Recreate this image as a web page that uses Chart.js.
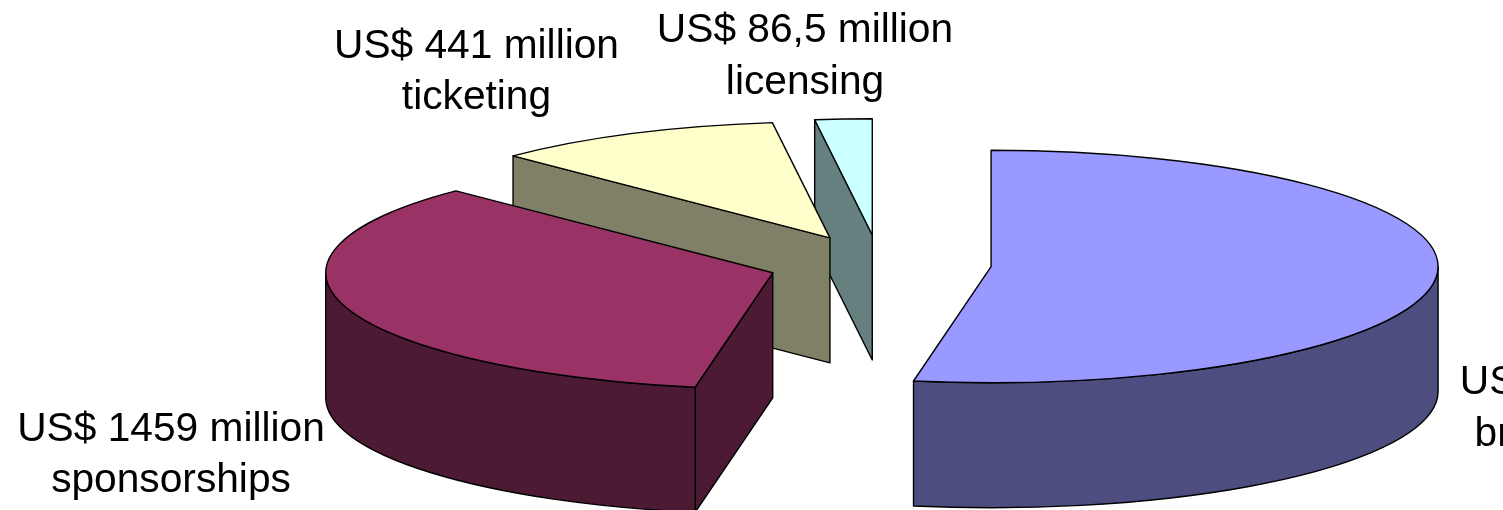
<!DOCTYPE html>
<html>
<head>
<meta charset="utf-8">
<title>Revenue by source</title>
<script src="https://cdn.jsdelivr.net/npm/chart.js@4"></script>
<style>
  html, body { margin: 0; padding: 0; background: #fff; overflow: hidden; }
  canvas { display: block; }
</style>
</head>
<body>
<canvas id="pie" width="1503" height="510"></canvas>
<script>
// Revenue in US$ million, clockwise from twelve o'clock
const sources = ['broadcasting', 'sponsorships', 'ticketing', 'licensing'];
const revenue = [2220, 1459, 441, 86.5];
const amountLabels = ['US$ 2,2 billion', 'US$ 1459 million', 'US$ 441 million', 'US$ 86,5 million'];

const topColors  = ['#9999FF', '#993366', '#FFFFCC', '#CCFFFF'];
const wallColors = ['#4D4D80', '#4D1A33', '#808066', '#668080'];

// Centre of each two-line label and the baselines of its lines
const labelX = [1591, 171, 476.5, 805];
const labelLine1 = [393.5, 440.5, 58, 42];
const labelLine2 = [445.5, 492, 109, 93.5];

// Projection of the tilted pie
const view = { cx: 879.5, cy: 264, radius: 447, squash: 0.26, depth: 125, explode: 112 };

const projectedPie = {
  id: 'projectedPie',
  beforeDatasetDraw(chart, args) {
    const ctx = chart.ctx;
    const arcs = args.meta.data;
    const { cx, cy, squash, depth, explode } = view;

    // Builds a path in squashed pie space; the stroke stays uniform afterwards
    const flatPath = (ox, oy, build) => {
      ctx.save();
      ctx.translate(ox, oy);
      ctx.scale(1, squash);
      build();
      ctx.restore();
    };
    const paint = (fill) => {
      ctx.fillStyle = fill;
      ctx.fill();
      ctx.stroke();
    };

    ctx.save();
    ctx.lineWidth = 1.4;
    ctx.lineJoin = 'round';
    ctx.strokeStyle = '#000';

    // Farthest slice first so nearer ones overlap it
    for (let i = arcs.length - 1; i >= 0; i--) {
      const arc = arcs[i];
      const { startAngle: a0, endAngle: a1, outerRadius: r } = arc.getProps(['startAngle', 'endAngle', 'outerRadius']);
      const mid = (a0 + a1) / 2;
      const ox = cx + Math.cos(mid) * explode;
      const oy = cy + Math.sin(mid) * explode * squash;
      const ex = (a) => ox + Math.cos(a) * r;
      const ey = (a) => oy + Math.sin(a) * r * squash;

      // Cut face along a radius
      const cutFace = (a) => {
        ctx.beginPath();
        ctx.moveTo(ox, oy);
        ctx.lineTo(ex(a), ey(a));
        ctx.lineTo(ex(a), ey(a) + depth);
        ctx.lineTo(ox, oy + depth);
        ctx.closePath();
        paint(wallColors[i]);
      };
      // A cut face shows only when its outward normal points at the viewer
      if (Math.cos(a0) < -1e-6) cutFace(a0);
      if (Math.cos(a1) > 1e-6) cutFace(a1);

      // Rim, only where it faces the viewer
      const from = Math.max(a0, 0);
      const to = Math.min(a1, Math.PI);
      if (to > from) {
        ctx.beginPath();
        flatPath(ox, oy, () => ctx.arc(0, 0, r, from, to));
        flatPath(ox, oy + depth, () => ctx.arc(0, 0, r, to, from, true));
        ctx.closePath();
        paint(wallColors[i]);
      }

      // Top face: the library's own arc element under the tilt
      ctx.save();
      ctx.translate(ox, oy);
      ctx.scale(1, squash);
      ctx.translate(-arc.x, -arc.y);
      arc.draw(ctx);
      ctx.restore();

      ctx.beginPath();
      flatPath(ox, oy, () => {
        ctx.moveTo(0, 0);
        ctx.arc(0, 0, r, a0, a1);
        ctx.closePath();
      });
      ctx.stroke();
    }
    ctx.restore();
    return false;
  },
  afterDraw(chart) {
    const ctx = chart.ctx;
    ctx.save();
    ctx.fillStyle = '#000';
    ctx.font = '40.7px "Liberation Sans", Arial, sans-serif';
    ctx.textAlign = 'center';
    ctx.textBaseline = 'alphabetic';
    sources.forEach((name, i) => {
      ctx.fillText(amountLabels[i], labelX[i], labelLine1[i]);
      ctx.fillText(name, labelX[i], labelLine2[i]);
    });
    ctx.restore();
  }
};

new Chart(document.getElementById('pie'), {
  type: 'pie',
  data: {
    labels: sources,
    datasets: [{
      data: revenue,
      backgroundColor: topColors,
      borderWidth: 0
    }]
  },
  options: {
    responsive: false,
    animation: false,
    radius: view.radius,
    layout: { padding: 0 },
    plugins: { legend: { display: false }, tooltip: { enabled: false } }
  },
  plugins: [projectedPie]
});
</script>
</body>
</html>
